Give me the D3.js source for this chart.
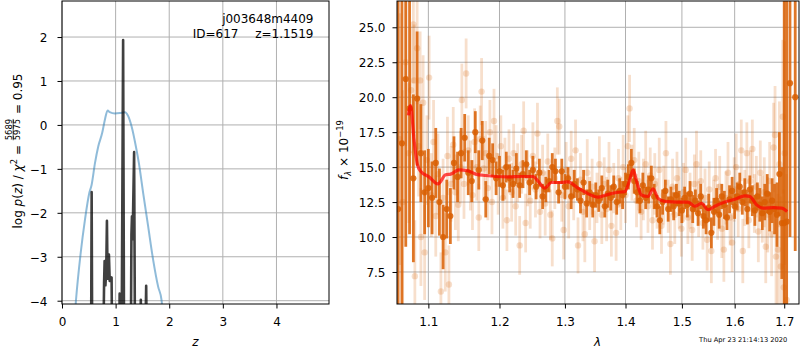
<!DOCTYPE html>
<html lang="en">
<head>
<meta charset="utf-8">
<title>redshift fit</title>
<script src="https://d3js.org/d3.v7.min.js"></script>
<style>
    body { margin: 0; background: #fff; }
    text { font-family: "DejaVu Sans", sans-serif; fill: #000; }
</style>
</head>
<body>
<script>
// ---- data: p(z) panel
var blueZ = [0.20, 0.26, 0.348, 0.428, 0.509, 0.553, 0.615, 0.676, 0.75, 0.80, 0.851, 0.89, 0.987,
             1.08, 1.173, 1.235, 1.297, 1.378, 1.434, 1.514, 1.607, 1.70, 1.793, 1.856, 1.92];
var blueP = [-5.0, -4.0, -2.92, -2.16, -1.55, -1.36, -0.87, -0.49, -0.18, 0.12, 0.33, 0.29, 0.26,
             0.27, 0.29, 0.20, -0.03, -0.49, -0.87, -1.55, -2.31, -3.07, -3.68, -3.98, -5.0];

var grayZ = [0.45, 0.54, 0.553, 0.566,
             0.76, 0.785, 0.795, 0.81, 0.825, 0.838, 0.85, 0.862, 0.875, 0.89, 0.905, 0.925, 0.94,
             1.06, 1.075, 1.095, 1.115, 1.14, 1.16,
             1.28, 1.295, 1.305, 1.318, 1.325, 1.345, 1.365,
             1.45, 1.47, 1.49,
             1.54, 1.57, 1.59, 2.0];
var grayP = [-6, -6, -1.53, -6,
             -6, -3.6, -3.1, -3.65, -3.3, -2.18, -3.5, -3.0, -2.95, -3.55, -3.5, -3.47, -6,
             -6, -3.84, -3.9, -4.3, 1.93, -6,
             -6, -2.5, -2.08, -2.6, -2.05, -0.62, -6,
             -6, -3.98, -6,
             -6, -3.66, -6, -6];

var zTicks = [0, 1, 2, 3, 4];
var pTicks = [-4, -3, -2, -1, 0, 1, 2];

// ---- data: spectrum panel
var darkWave = [1.060, 1.065, 1.070, 1.075, 1.080, 1.085, 1.090, 1.095, 1.100, 1.105,
                1.110, 1.115, 1.120, 1.125, 1.130, 1.135, 1.140, 1.145, 1.150, 1.155,
                1.160, 1.165, 1.170, 1.175, 1.180, 1.185, 1.190, 1.195, 1.200, 1.205,
                1.210, 1.215, 1.220, 1.225, 1.230, 1.235, 1.240, 1.245, 1.250, 1.255,
                1.260, 1.265, 1.270, 1.275, 1.280, 1.285, 1.290, 1.295, 1.300, 1.305,
                1.310, 1.315, 1.320, 1.325, 1.330, 1.335, 1.340, 1.345, 1.350, 1.355,
                1.360, 1.365, 1.370, 1.375, 1.380, 1.385, 1.390, 1.395, 1.400, 1.405,
                1.410, 1.415, 1.420, 1.425, 1.430, 1.435, 1.440, 1.445, 1.450, 1.455,
                1.460, 1.465, 1.470, 1.475, 1.480, 1.485, 1.490, 1.495, 1.500, 1.505,
                1.510, 1.515, 1.520, 1.525, 1.530, 1.535, 1.540, 1.545, 1.550, 1.555,
                1.560, 1.565, 1.570, 1.575, 1.580, 1.585, 1.590, 1.595, 1.600, 1.605,
                1.610, 1.615, 1.620, 1.625, 1.630, 1.635, 1.640, 1.645, 1.650, 1.655,
                1.660, 1.665, 1.670, 1.675, 1.680, 1.685, 1.690, 1.695, 1.700, 1.705,
                1.712, 1.723];
var darkFlux = [12.0, 16.7, 21.3, 19.2, 14.2, 19.9, 16.0, 13.2, 13.5, 12.8,
                15.3, 12.5, 10.0, 12.0, 11.5, 15.3, 14.3, 16.0, 17.1, 14.6,
                14.0, 17.5, 14.8, 16.9, 12.7, 15.8, 15.5, 14.2, 14.7, 13.7,
                15.0, 14.2, 13.8, 14.9, 13.7, 14.5, 15.2, 13.9, 14.8, 13.6,
                14.6, 12.9, 13.4, 14.0, 15.0, 14.7, 13.2, 14.7, 13.6, 14.2,
                12.9, 13.8, 13.4, 12.6, 13.9, 12.4, 13.2, 12.3, 13.0, 12.6,
                13.5, 12.2, 13.1, 12.8, 13.6, 12.5, 13.3, 13.0, 13.8, 14.3,
                15.3, 14.0, 13.2, 12.6, 13.7, 12.8, 13.4, 14.2, 12.9, 12.2,
                11.2, 12.5, 13.3, 12.0, 12.7, 12.2, 13.0, 12.4, 11.9, 12.8,
                12.3, 13.1, 12.0, 12.6, 11.7, 12.9, 11.5, 11.2, 12.1, 10.3,
                11.8, 12.6, 11.6, 12.9, 12.3, 11.4, 12.7, 13.3, 12.2, 12.9,
                13.6, 12.5, 13.2, 12.0, 13.4, 12.6, 11.9, 12.9, 12.3, 11.7,
                12.5, 13.1, 11.8, 12.6, 12.0, 11.6, 14.5, 11.0, 11.0, 11.1,
                21.0, 20.0];
var darkErr = [25, 20, 12, 9, 6, 4.8, 3.5, 3.0, 2.8, 2.6,
               2.5, 2.4, 2.3, 2.1, 2.0, 1.9, 1.8, 1.8, 1.7, 1.6,
               1.5, 1.5, 1.4, 1.4, 1.3, 1.3, 1.2, 1.2, 1.1, 1.1,
               1.1, 1.0, 1.0, 1.1, 0.9, 1.0, 1.0, 0.9, 1.0, 0.9,
               1.0, 0.9, 0.9, 0.8, 1.0, 0.9, 0.8, 0.9, 0.9, 0.8,
               0.9, 1.0, 0.8, 0.9, 0.9, 1.0, 0.8, 0.9, 0.9, 0.8,
               0.9, 0.8, 1.0, 0.9, 0.8, 0.9, 0.9, 1.0, 0.8, 0.9,
               1.0, 0.9, 0.8, 0.9, 0.9, 0.8, 1.0, 0.9, 0.9, 0.8,
               1.0, 0.9, 0.8, 0.9, 0.9, 1.0, 0.8, 0.9, 0.9, 0.8,
               0.9, 0.9, 1.0, 0.8, 0.9, 0.9, 0.9, 1.0, 1.0, 1.1,
               1.0, 0.9, 1.0, 0.9, 1.0, 0.9, 1.0, 1.0, 0.9, 1.0,
               1.0, 0.9, 1.0, 1.1, 1.0, 1.1, 1.1, 1.0, 1.2, 1.2,
               1.3, 1.4, 1.4, 1.6, 1.8, 2.3, 3.0, 4.0, 20, 18,
               11, 11];

var lightWave = [1.062, 1.066, 1.070, 1.074, 1.077, 1.080, 1.081, 1.082, 1.085, 1.087,
                 1.089, 1.090, 1.093, 1.095, 1.098, 1.101, 1.104, 1.107, 1.110, 1.113,
                 1.117, 1.120, 1.123, 1.126, 1.128, 1.131, 1.134, 1.137, 1.141, 1.144,
                 1.146, 1.149, 1.152, 1.155, 1.158, 1.161, 1.164, 1.167, 1.170, 1.172,
                 1.174, 1.177, 1.180, 1.183, 1.186, 1.189, 1.192, 1.195, 1.198, 1.202,
                 1.205, 1.208, 1.211, 1.214, 1.218, 1.221, 1.224, 1.227, 1.230, 1.233,
                 1.236, 1.239, 1.242, 1.246, 1.250, 1.254, 1.257, 1.261, 1.265, 1.269,
                 1.273, 1.277, 1.280, 1.284, 1.288, 1.291, 1.295, 1.298, 1.302, 1.306,
                 1.310, 1.314, 1.317, 1.321, 1.325, 1.329, 1.332, 1.336, 1.340, 1.344,
                 1.348, 1.352, 1.356, 1.360, 1.364, 1.368, 1.372, 1.376, 1.380, 1.384,
                 1.388, 1.392, 1.396, 1.400, 1.404, 1.407, 1.411, 1.415, 1.419, 1.423,
                 1.427, 1.431, 1.435, 1.439, 1.443, 1.447, 1.451, 1.455, 1.459, 1.463,
                 1.467, 1.471, 1.475, 1.479, 1.483, 1.487, 1.491, 1.495, 1.499, 1.503,
                 1.507, 1.511, 1.515, 1.519, 1.523, 1.527, 1.531, 1.535, 1.539, 1.543,
                 1.547, 1.551, 1.555, 1.559, 1.563, 1.567, 1.571, 1.575, 1.579, 1.583,
                 1.587, 1.591, 1.595, 1.599, 1.603, 1.607, 1.613, 1.616, 1.620, 1.624,
                 1.628, 1.631, 1.635, 1.639, 1.643, 1.647, 1.651, 1.655, 1.659, 1.662,
                 1.666, 1.670, 1.674, 1.678, 1.681, 1.683, 1.687, 1.690, 1.693, 1.697,
                 1.699, 1.701, 1.705];
var lightFlux = [17.0, 12.5, 22.5, 16.0, 20.5, 25.2, 21.2, 7.2, 23.5, 16.5,
                 21.2, 10.0, 19.6, 8.9, 15.5, 21.4, 13.0, 16.8, 11.5, 14.5,
                 6.1, 12.8, 8.9, 15.8, 6.6, 13.8, 16.6, 13.2, 12.3, 15.0,
                 19.8, 13.8, 21.7, 16.2, 14.4, 13.0, 16.8, 15.0, 11.4, 17.0,
                 20.4, 14.9, 16.0, 13.5, 17.5, 12.5, 18.3, 15.8, 13.8, 16.5,
                 12.8, 14.9, 11.2, 15.6, 13.2, 16.0, 12.2, 14.6, 9.4, 15.2,
                 17.6, 11.0, 14.2, 12.6, 15.8, 13.4, 17.4, 11.8, 14.6, 12.4,
                 15.4, 11.6, 9.9, 14.2, 18.3, 17.9, 13.0, 10.5, 14.8, 12.2,
                 15.6, 13.0, 16.2, 9.4, 14.1, 11.8, 10.2, 14.6, 12.4, 13.6,
                 9.7, 12.8, 15.2, 11.6, 13.8, 12.0, 14.8, 10.8, 13.5, 10.3,
                 14.2, 12.4, 15.0, 13.0, 16.5, 19.2, 14.6, 15.5, 12.6, 14.0,
                 11.8, 13.4, 15.2, 12.2, 14.4, 11.2, 13.8, 12.4, 14.8, 10.8,
                 13.0, 16.0, 12.2, 9.5, 13.6, 11.6, 14.2, 12.8, 10.6, 13.2,
                 14.8, 11.4, 12.6, 10.5, 13.8, 15.2, 12.0, 14.0, 11.0, 12.8,
                 9.8, 13.4, 9.0, 12.2, 14.2, 11.8, 13.6, 10.6, 9.1, 12.8,
                 14.6, 11.4, 9.6, 13.4, 15.0, 12.0, 16.2, 9.0, 12.8, 16.0,
                 11.2, 14.0, 16.3, 12.4, 13.6, 10.4, 14.6, 12.0, 13.2, 9.3,
                 11.6, 14.0, 10.2, 16.4, 17.3, 8.6, 9.1, 15.2, 7.9, 18.6,
                 6.4, 16.0, 5.5];
var lightErr = [9, 8, 6, 5, 4.5, 4.2, 4.0, 4.0, 4.0, 3.6,
                3.5, 3.5, 3.4, 3.4, 3.2, 3.0, 3.0, 3.0, 2.9, 2.9,
                2.8, 2.8, 2.8, 2.8, 2.8, 2.7, 2.7, 2.7, 2.6, 2.6,
                2.6, 2.5, 2.5, 2.5, 2.5, 2.5, 2.4, 2.4, 2.4, 2.4,
                2.4, 2.3, 2.3, 2.3, 2.3, 2.3, 2.3, 2.2, 2.2, 2.2,
                2.2, 2.2, 2.2, 2.1, 2.1, 2.1, 2.1, 2.1, 2.1, 2.1,
                2.1, 2.1, 2.0, 2.0, 2.4, 2.0, 2.2, 1.9, 2.0, 2.3,
                2.0, 1.8, 2.0, 2.2, 2.4, 2.0, 1.9, 2.1, 2.0, 2.3,
                2.0, 1.8, 2.2, 2.0, 1.9, 2.1, 2.0, 2.4, 1.9, 2.0,
                2.2, 1.8, 2.0, 2.1, 1.9, 2.3, 2.0, 2.2, 1.8, 2.0,
                2.1, 1.9, 2.3, 2.0, 2.2, 2.4, 2.0, 2.3, 1.9, 2.1,
                2.0, 2.2, 2.4, 1.9, 2.0, 2.1, 2.2, 1.8, 2.3, 2.0,
                2.1, 2.3, 1.9, 2.2, 2.0, 2.1, 1.9, 2.2, 2.0, 2.1,
                2.3, 1.9, 2.0, 2.2, 2.1, 2.4, 2.0, 2.2, 1.9, 2.1,
                2.2, 2.0, 2.3, 1.9, 2.1, 2.0, 2.2, 2.1, 2.3, 1.9,
                2.2, 2.0, 2.1, 2.3, 2.4, 2.0, 2.2, 2.3, 2.0, 2.2,
                2.0, 2.2, 2.1, 2.1, 2.2, 2.2, 2.3, 2.4, 2.5, 2.6,
                2.7, 2.8, 3.0, 3.2, 3.5, 3.8, 4.0, 4.5, 5.0, 5.5,
                7, 8, 9];

var modelWave = [1.0734, 1.0764, 1.0808, 1.0853, 1.0897, 1.1008, 1.1130, 1.1235, 1.1304, 1.1420,
                 1.1538, 1.1656, 1.1799, 1.1944, 1.2126, 1.2326, 1.2503, 1.2579, 1.2683, 1.2787,
                 1.2945, 1.3050, 1.3210, 1.3373, 1.3538, 1.3705, 1.3873, 1.3988, 1.4074, 1.4131,
                 1.4190, 1.4277, 1.4392, 1.4481, 1.4570, 1.4689, 1.4930, 1.5114, 1.5239, 1.5364,
                 1.5489, 1.5616, 1.5809, 1.6004, 1.6201, 1.6300, 1.6434, 1.6567, 1.6771, 1.6945,
                 1.7061];
var modelFlux = [18.7, 19.4, 17.0, 15.2, 14.7, 14.3, 13.8, 14.45, 14.5, 14.8,
                 14.75, 14.5, 14.4, 14.33, 14.3, 14.33, 14.33, 14.0, 13.5, 13.9,
                 13.9, 13.95, 13.5, 13.1, 12.85, 13.05, 13.2, 13.25, 14.1, 14.8,
                 14.0, 13.0, 12.9, 13.45, 12.75, 12.55, 12.5, 12.5, 12.2, 12.4,
                 11.95, 12.2, 12.5, 12.7, 12.95, 12.9, 12.3, 12.07, 12.1, 12.07,
                 11.83];

var lamTicks = [1.1, 1.2, 1.3, 1.4, 1.5, 1.6, 1.7];
var fTicks = [7.5, 10.0, 12.5, 15.0, 17.5, 20.0, 22.5, 25.0];

// ---- layout
var width = 800, height = 350;
var leftBox = { x0: 62, x1: 329, y0: 1, y1: 304 };
var rightBox = { x0: 397, x1: 799, y0: 1, y1: 304 };
var orange = "#d95f02";

var svg = d3.select("body").append("svg")
    .attr("width", width)
    .attr("height", height);

var zScale = d3.scaleLinear().domain([0, 4.98]).range([leftBox.x0, leftBox.x1]);
var pScale = d3.scaleLinear().domain([-4.075, 2.82]).range([leftBox.y1, leftBox.y0]);
var lamScale = d3.scaleLog().domain([1.0586, 1.731]).range([rightBox.x0, rightBox.x1]);
var fScale = d3.scaleLinear().domain([5.21, 26.88]).range([rightBox.y1, rightBox.y0]);

var defs = svg.append("defs");
[["clipL", leftBox], ["clipR", rightBox]].forEach(function(c) {
    defs.append("clipPath").attr("id", c[0]).append("rect")
        .attr("x", c[1].x0).attr("y", c[1].y0)
        .attr("width", c[1].x1 - c[1].x0).attr("height", c[1].y1 - c[1].y0);
});

function drawGrid(xs, ys, xScale, yScale, box) {
    var g = svg.append("g").attr("stroke", "#b0b0b0").attr("stroke-width", 1);
    g.selectAll(".gx").data(xs).enter().append("line")
        .attr("x1", function(d) { return xScale(d); })
        .attr("x2", function(d) { return xScale(d); })
        .attr("y1", box.y0).attr("y2", box.y1);
    g.selectAll(".gy").data(ys).enter().append("line")
        .attr("x1", box.x0).attr("x2", box.x1)
        .attr("y1", function(d) { return yScale(d); })
        .attr("y2", function(d) { return yScale(d); });
}

function styleAxis(sel) {
    sel.select(".domain").remove();
    sel.attr("font-family", null).attr("font-size", null);
    sel.selectAll(".tick line").attr("stroke", "#000");
    sel.selectAll(".tick text").attr("font-size", 12).attr("fill", "#000");
}

function bottomAxis(scale, ticks, fmt, box) {
    var ax = svg.append("g")
        .attr("transform", "translate(0," + box.y1 + ")")
        .call(d3.axisBottom(scale).tickValues(ticks).tickFormat(fmt).tickSize(4.5));
    styleAxis(ax);
    ax.selectAll(".tick text").attr("y", 21.5).attr("dy", 0);
}

function leftAxis(scale, ticks, fmt, box, gap) {
    var ax = svg.append("g")
        .attr("transform", "translate(" + box.x0 + ",0)")
        .call(d3.axisLeft(scale).tickValues(ticks).tickFormat(fmt).tickSize(4.5));
    styleAxis(ax);
    ax.selectAll(".tick text").attr("x", -gap).attr("dy", "0.36em");
}

function frame(box) {
    svg.append("rect")
        .attr("x", box.x0).attr("y", box.y0)
        .attr("width", box.x1 - box.x0).attr("height", box.y1 - box.y0)
        .attr("fill", "none").attr("stroke", "#000").attr("stroke-width", 1);
}

// ---- left panel
drawGrid(zTicks, pTicks, zScale, pScale, leftBox);

var plotL = svg.append("g").attr("clip-path", "url(#clipL)");
var pzLine = d3.line()
    .x(function(d) { return zScale(d[0]); })
    .y(function(d) { return pScale(d[1]); });

plotL.append("path")
    .datum(d3.zip(blueZ, blueP))
    .attr("d", pzLine.curve(d3.curveMonotoneX))
    .attr("fill", "none")
    .attr("stroke", "#1f77b4")
    .attr("stroke-opacity", 0.5)
    .attr("stroke-width", 2);

plotL.append("path")
    .datum(d3.zip(grayZ, grayP))
    .attr("d", pzLine.curve(d3.curveLinear))
    .attr("fill", "none")
    .attr("stroke", "#000")
    .attr("stroke-opacity", 0.75)
    .attr("stroke-width", 2.6)
    .attr("stroke-linejoin", "round");

bottomAxis(zScale, zTicks, d3.format("d"), leftBox);
leftAxis(pScale, pTicks, d3.format("d"), leftBox, 14.5);
frame(leftBox);

svg.append("text").attr("x", 313.5).attr("y", 23.3)
    .attr("text-anchor", "end").attr("font-size", 12).text("j003648m4409");
svg.append("text").attr("x", 238.5).attr("y", 38.3)
    .attr("text-anchor", "end").attr("font-size", 12).text("ID=617");
svg.append("text").attr("x", 313.5).attr("y", 38.3)
    .attr("text-anchor", "end").attr("font-size", 12).text("z=1.1519");

svg.append("text").attr("x", (leftBox.x0 + leftBox.x1) / 2).attr("y", 345.5)
    .attr("text-anchor", "middle").attr("font-size", 12)
    .attr("font-style", "italic").text("z");

// y label with a stacked fraction
var ylab = svg.append("g").attr("transform", "translate(21.5,151) rotate(-90)");
var part1 = ylab.append("text").attr("font-size", 12).style("white-space", "pre");
part1.append("tspan").text("log ");
part1.append("tspan").attr("font-style", "italic").text("p");
part1.append("tspan").text("(");
part1.append("tspan").attr("font-style", "italic").text("z");
part1.append("tspan").text(") / ");
part1.append("tspan").attr("font-style", "italic").text("\u03c7");
part1.append("tspan").attr("font-size", 8.4).attr("dy", -5).text("2");
part1.append("tspan").attr("dy", 5).text(" = ");
var w1 = part1.node().getComputedTextLength();

var fracG = ylab.append("g");
var num = fracG.append("text").attr("font-size", 8.4).attr("text-anchor", "middle")
    .attr("y", -10).text("5689");
var den = fracG.append("text").attr("font-size", 8.4).attr("text-anchor", "middle")
    .attr("y", -1.8).text("5975");
var fw = Math.max(num.node().getComputedTextLength(), den.node().getComputedTextLength()) + 2;
fracG.append("line").attr("x1", -fw / 2 + 1).attr("x2", fw / 2 - 1)
    .attr("y1", -8.3).attr("y2", -8.3).attr("stroke", "#000").attr("stroke-width", 0.7);

var part2 = ylab.append("text").attr("font-size", 12).style("white-space", "pre").text(" = 0.95");
var w2 = part2.node().getComputedTextLength();
var start = -(w1 + fw + w2) / 2;
part1.attr("x", start);
fracG.attr("transform", "translate(" + (start + w1 + fw / 2) + ",0)");
part2.attr("x", start + w1 + fw);

// ---- right panel
drawGrid(lamTicks, fTicks, lamScale, fScale, rightBox);

var plotR = svg.append("g").attr("clip-path", "url(#clipR)");

function errorPoints(waves, flux, errs, opacity, r) {
    var pts = d3.zip(waves, flux, errs);
    var g = plotR.append("g");
    g.selectAll("line").data(pts).enter().append("line")
        .attr("x1", function(d) { return lamScale(d[0]); })
        .attr("x2", function(d) { return lamScale(d[0]); })
        .attr("y1", function(d) { return fScale(d[1] - d[2]); })
        .attr("y2", function(d) { return fScale(d[1] + d[2]); })
        .attr("stroke", orange)
        .attr("stroke-opacity", opacity)
        .attr("stroke-width", 2.8);
    g.selectAll("circle").data(pts).enter().append("circle")
        .attr("cx", function(d) { return lamScale(d[0]); })
        .attr("cy", function(d) { return fScale(d[1]); })
        .attr("r", r)
        .attr("fill", orange)
        .attr("fill-opacity", opacity);
}

errorPoints(lightWave, lightFlux, lightErr, 0.2, 3.2);
errorPoints(darkWave, darkFlux, darkErr, 0.85, 3.1);

plotR.append("path")
    .datum(d3.zip(modelWave, modelFlux))
    .attr("d", d3.line()
        .curve(d3.curveMonotoneX)
        .x(function(d) { return lamScale(d[0]); })
        .y(function(d) { return fScale(d[1]); }))
    .attr("fill", "none")
    .attr("stroke", "red")
    .attr("stroke-opacity", 0.7)
    .attr("stroke-width", 3.2);

bottomAxis(lamScale, lamTicks, d3.format(".1f"), rightBox);
leftAxis(fScale, fTicks, d3.format(".1f"), rightBox, 11.5);
frame(rightBox);

svg.append("text").attr("x", 597.5).attr("y", 345.5)
    .attr("text-anchor", "middle").attr("font-size", 12)
    .attr("font-style", "italic").text("\u03bb");

var flab = svg.append("text")
    .attr("transform", "translate(348,150) rotate(-90)")
    .attr("text-anchor", "middle").attr("font-size", 12);
flab.append("tspan").attr("font-style", "italic").text("f");
flab.append("tspan").attr("font-style", "italic").attr("font-size", 8.4).attr("dy", 3).text("\u03bb");
flab.append("tspan").attr("dy", -3).text(" \u00d7 10");
flab.append("tspan").attr("font-size", 8.4).attr("dy", -5).text("\u221219");

svg.append("text").attr("x", 787.3).attr("y", 341.5)
    .attr("text-anchor", "end").attr("font-size", 6.7)
    .text("Thu Apr 23 21:14:13 2020");
</script>
</body>
</html>
